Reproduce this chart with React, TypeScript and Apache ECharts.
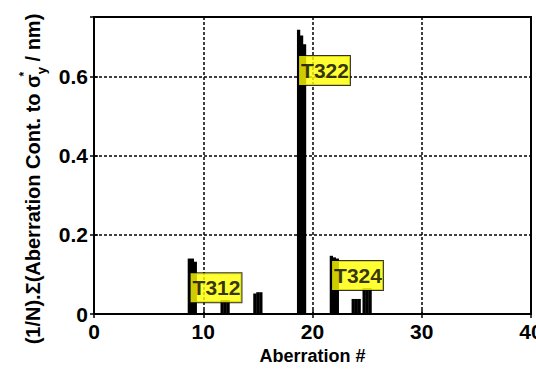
import React, { useEffect, useRef } from "react";
import * as echarts from "echarts";

const positions = [9, 12, 15, 19, 22, 24, 25];
const seriesA = [0.14, 0.035, 0.052, 0.718, 0.147, 0.038, 0.065];
const seriesB = [0.14, 0.035, 0.055, 0.703, 0.143, 0.038, 0.065];
const seriesC = [0.132, 0.035, 0.055, 0.681, 0.14, 0.038, 0.065];
const annotations = [
  { name: "T312", x: 11.17, y: 0.066 },
  { name: "T322", x: 21.1, y: 0.615 },
  { name: "T324", x: 24.12, y: 0.097 },
];
const xTicks = [0, 10, 20, 30, 40];
const yTicks = [0, 0.2, 0.4, 0.6];

const FONT = "'Liberation Sans', Arial, Helvetica, sans-serif";

export default function App() {
  const ref = useRef<HTMLDivElement>(null);
  useEffect(() => {
    document.body.style.margin = "0";
    const chart = echarts.init(ref.current!, null, { renderer: "svg" });
    const grid = {
      left: 94,
      right: 5,
      top: 17,
      bottom: 56,
      containLabel: false,
      outerBoundsMode: "none",
      show: true,
      borderColor: "#000",
      borderWidth: 2,
      backgroundColor: "#fff",
    };
    const gridLine = { show: true, lineStyle: { color: "#000", width: 1.5, type: [3, 2] as any } };
    const mk = (vals: number[]) => ({
      type: "bar",
      data: positions.map((p, i) => [p, vals[i]]),
      barWidth: 3.3,
      barGap: "-10%",
      itemStyle: { color: "#000" },
      z: 3,
    });
    chart.setOption({
      animation: false,
      backgroundColor: "#fff",
      grid,
      xAxis: [
        {
          type: "value",
          min: 0,
          max: 40,
          interval: 10,
          axisLine: { show: true, lineStyle: { color: "#000", width: 2 } },
          axisTick: { show: true, inside: true, length: 4, lineStyle: { color: "#000", width: 1.5 } },
          axisLabel: {
            color: "#000",
            fontFamily: FONT,
            fontWeight: "bold",
            fontSize: 21,
            margin: 7,
            formatter: (v: number) => (xTicks.includes(v) ? String(v) : ""),
          },
          splitLine: gridLine,
          name: "Aberration #",
          nameLocation: "middle",
          nameGap: 33,
          nameTextStyle: { color: "#000", fontFamily: FONT, fontWeight: "bold", fontSize: 18 },
        },
        {
          type: "value",
          position: "top",
          min: 0,
          max: 40,
          interval: 10,
          axisLine: { show: true, lineStyle: { color: "#000", width: 2 } },
          axisTick: { show: true, inside: true, length: 4, lineStyle: { color: "#000", width: 1.5 } },
          axisLabel: { show: false },
          splitLine: { show: false },
        },
      ],
      yAxis: [
        {
          type: "value",
          min: 0,
          max: 0.75,
          interval: 0.2,
          axisLine: { show: true, lineStyle: { color: "#000", width: 2 } },
          axisTick: { show: true, inside: true, length: 4, lineStyle: { color: "#000", width: 1.5 } },
          axisLabel: {
            color: "#000",
            fontFamily: FONT,
            fontWeight: "bold",
            fontSize: 21,
            margin: 6,
            showMaxLabel: false,
            formatter: (v: number) => {
              const t = yTicks.find((y) => Math.abs(y - v) < 1e-6);
              return t === undefined ? "" : t === 0 ? "0" : t.toFixed(1);
            },
          },
          splitLine: gridLine,
        },
        {
          type: "value",
          position: "right",
          min: 0,
          max: 0.75,
          interval: 0.2,
          axisLine: { show: true, lineStyle: { color: "#000", width: 2 } },
          axisTick: { show: true, inside: true, length: 4, lineStyle: { color: "#000", width: 1.5 } },
          axisLabel: { show: false },
          splitLine: { show: false },
        },
      ],
      series: [
        mk(seriesA),
        mk(seriesB),
        mk(seriesC),
        {
          type: "scatter",
          data: annotations.map((a) => ({ name: a.name, value: [a.x, a.y] })),
          symbolSize: 0,
          z: 10,
          label: {
            show: true,
            position: "inside",
            formatter: (p: any) => p.name,
            color: "#000",
            fontFamily: FONT,
            fontWeight: "bold",
            fontSize: 21,
            lineHeight: 22,
            backgroundColor: "#ffff00",
            borderColor: "#000",
            borderWidth: 1,
            padding: [4, 1, 3, 2],
          },
        },
      ],
      graphic: [
        {
          type: "text",
          x: 33,
          y: 179,
          rotation: Math.PI / 2,
          style: {
            text: "{b|(1/N).Σ(Aberration Cont. to σ}{sup|*}{sub|y}{b| / nm)}",
            align: "center",
            verticalAlign: "middle",
            fill: "#000",
            rich: {
              b: { fontFamily: FONT, fontWeight: "bold", fontSize: 20, lineHeight: 30, fill: "#000" },
              sup: { fontFamily: FONT, fontWeight: "bold", fontSize: 12, verticalAlign: "top", lineHeight: 12, width: 0, fill: "#000" },
              sub: { fontFamily: FONT, fontWeight: "bold", fontSize: 13, verticalAlign: "bottom", lineHeight: 13, fill: "#000" },
            },
          },
        },
      ],
    });
    return () => chart.dispose();
  }, []);
  return <div ref={ref} style={{ width: 536, height: 370 }} />;
}
